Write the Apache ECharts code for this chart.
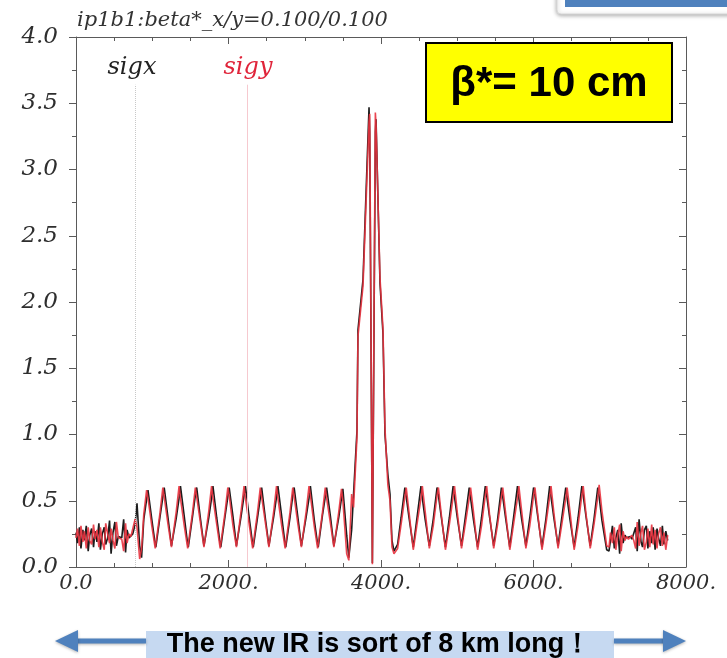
<!DOCTYPE html>
<html>
<head>
<meta charset="utf-8">
<script src="https://cdn.jsdelivr.net/npm/echarts@6/dist/echarts.min.js"></script>
<style>
  html, body { margin: 0; padding: 0; background: #fff; }
  #chart { width: 727px; height: 658px; }
</style>
</head>
<body>
<div id="chart"></div>
<script>
  //左侧直线段 (s, sigx, sigy)
  var leftS = [0, 20, 45, 65, 90, 110, 135, 160, 180, 205, 230, 250, 275, 300, 320, 345, 370, 390, 415, 440, 460, 485, 510, 530, 555, 580, 600, 625, 650, 670, 695, 720, 745]
  var leftX = [0.26, 0.18, 0.30, 0.14, 0.28, 0.20, 0.31, 0.12, 0.24, 0.29, 0.15, 0.27, 0.19, 0.33, 0.13, 0.25, 0.30, 0.17, 0.22, 0.35, 0.10, 0.26, 0.34, 0.16, 0.23, 0.23, 0.22, 0.36, 0.11, 0.28, 0.22, 0.22, 0.25]
  var leftY = [0.22, 0.29, 0.16, 0.31, 0.19, 0.27, 0.14, 0.30, 0.20, 0.17, 0.32, 0.21, 0.28, 0.15, 0.30, 0.19, 0.13, 0.33, 0.25, 0.18, 0.29, 0.20, 0.14, 0.34, 0.22, 0.22, 0.21, 0.12, 0.33, 0.18, 0.25, 0.23, 0.22]

  //左侧弧段
  var arcLS = [775, 800, 835, 860,
    889, 926, 944, 994, 1039,
    1047, 1102, 1139, 1157, 1207, 1252,
    1260, 1315, 1352, 1370, 1420, 1465,
    1473, 1528, 1565, 1583, 1633, 1678,
    1686, 1741, 1778, 1796, 1846, 1891,
    1899, 1954, 1991, 2009, 2059, 2104,
    2112, 2167, 2204, 2222, 2272, 2317,
    2325, 2380, 2417, 2435, 2485, 2530,
    2538, 2593, 2630, 2648, 2698, 2743,
    2751, 2806, 2843, 2861, 2911, 2956,
    2964, 3019, 3056, 3074, 3124, 3169,
    3177, 3232, 3269, 3287, 3337, 3382,
    3390, 3445, 3482, 3500, 3550]
  var arcLX = [0.32, 0.48, 0.16, 0.07,
    0.36, 0.51, 0.58, 0.36, 0.17,
    0.15, 0.38, 0.53, 0.60, 0.37, 0.16,
    0.16, 0.37, 0.52, 0.61, 0.38, 0.17,
    0.15, 0.38, 0.54, 0.60, 0.36, 0.16,
    0.16, 0.37, 0.52, 0.61, 0.37, 0.17,
    0.15, 0.38, 0.53, 0.60, 0.38, 0.16,
    0.16, 0.39, 0.54, 0.61, 0.37, 0.17,
    0.15, 0.37, 0.52, 0.60, 0.36, 0.16,
    0.16, 0.38, 0.53, 0.61, 0.38, 0.17,
    0.15, 0.37, 0.54, 0.60, 0.37, 0.16,
    0.16, 0.38, 0.52, 0.61, 0.36, 0.17,
    0.15, 0.39, 0.53, 0.60, 0.38, 0.16,
    0.16, 0.37, 0.52, 0.59, 0.24]
  var arcLY = [0.36, 0.30, 0.06, 0.14,
    0.40, 0.58, 0.52, 0.31, 0.14,
    0.13, 0.41, 0.60, 0.53, 0.32, 0.15,
    0.14, 0.42, 0.61, 0.52, 0.31, 0.14,
    0.13, 0.41, 0.60, 0.53, 0.33, 0.15,
    0.14, 0.42, 0.61, 0.52, 0.32, 0.14,
    0.13, 0.41, 0.60, 0.54, 0.31, 0.15,
    0.14, 0.43, 0.61, 0.52, 0.32, 0.14,
    0.13, 0.41, 0.60, 0.53, 0.33, 0.15,
    0.14, 0.42, 0.61, 0.52, 0.31, 0.14,
    0.13, 0.41, 0.60, 0.53, 0.32, 0.15,
    0.14, 0.42, 0.61, 0.54, 0.31, 0.14,
    0.13, 0.41, 0.60, 0.52, 0.33, 0.15,
    0.14, 0.41, 0.59, 0.50, 0.10]

  //对撞区 IR
  var irS = [3578, 3615, 3640, 3685, 3698, 3764, 3843, 3852, 3887, 3926, 3935, 3987, 4026, 4052, 4090, 4118, 4144, 4170]
  var irX = [0.07, 0.28, 0.55, 1.03, 1.79, 2.17, 3.47, 3.28, 0.03, 3.28, 3.38, 2.14, 1.76, 1.00, 0.70, 0.55, 0.20, 0.12]
  var irY = [0.05, 0.55, 0.45, 0.98, 1.74, 2.12, 3.36, 3.42, 0.02, 3.43, 3.34, 2.18, 1.80, 1.05, 0.62, 0.50, 0.15, 0.10]

  //右侧弧段
  var arcRS = [4218, 4263, 4313, 4331, 4368, 4423,
    4429, 4474, 4524, 4542, 4579, 4634,
    4640, 4685, 4735, 4753, 4790, 4845,
    4851, 4896, 4946, 4964, 5001, 5056,
    5062, 5107, 5157, 5175, 5212, 5267,
    5273, 5318, 5368, 5386, 5423, 5478,
    5484, 5529, 5579, 5597, 5634, 5689,
    5695, 5740, 5790, 5808, 5845, 5900,
    5906, 5951, 6001, 6019, 6056, 6111,
    6117, 6162, 6212, 6230, 6267, 6322,
    6328, 6373, 6423, 6441, 6478, 6533,
    6539, 6584, 6634, 6652, 6689, 6744,
    6748, 6793, 6843, 6861, 6898, 6960]
  var arcRX = [0.17, 0.37, 0.60, 0.53, 0.37, 0.15,
    0.16, 0.38, 0.61, 0.52, 0.36, 0.16,
    0.17, 0.36, 0.60, 0.54, 0.38, 0.15,
    0.16, 0.37, 0.61, 0.53, 0.37, 0.16,
    0.17, 0.38, 0.60, 0.52, 0.36, 0.15,
    0.16, 0.37, 0.61, 0.54, 0.38, 0.16,
    0.17, 0.36, 0.60, 0.53, 0.37, 0.15,
    0.16, 0.38, 0.61, 0.52, 0.36, 0.16,
    0.17, 0.37, 0.60, 0.54, 0.38, 0.15,
    0.16, 0.36, 0.61, 0.53, 0.37, 0.16,
    0.17, 0.38, 0.60, 0.52, 0.36, 0.15,
    0.16, 0.37, 0.61, 0.54, 0.38, 0.16,
    0.17, 0.36, 0.60, 0.53, 0.35, 0.13]
  var arcRY = [0.14, 0.32, 0.53, 0.60, 0.41, 0.13,
    0.15, 0.33, 0.52, 0.61, 0.42, 0.14,
    0.14, 0.31, 0.54, 0.60, 0.40, 0.13,
    0.15, 0.32, 0.53, 0.61, 0.41, 0.14,
    0.14, 0.33, 0.52, 0.60, 0.42, 0.13,
    0.15, 0.31, 0.54, 0.61, 0.40, 0.14,
    0.14, 0.32, 0.53, 0.60, 0.41, 0.13,
    0.15, 0.33, 0.52, 0.61, 0.42, 0.14,
    0.14, 0.31, 0.54, 0.60, 0.40, 0.13,
    0.15, 0.32, 0.53, 0.61, 0.41, 0.14,
    0.14, 0.33, 0.52, 0.60, 0.42, 0.13,
    0.15, 0.31, 0.54, 0.61, 0.40, 0.14,
    0.14, 0.32, 0.53, 0.62, 0.42, 0.16]

  //右侧直线段
  var rightS = [6990, 7010, 7035, 7060, 7080, 7105, 7130, 7150, 7175, 7200, 7220, 7245, 7270, 7290, 7315, 7340, 7360, 7385, 7410, 7430, 7455, 7480, 7500, 7525, 7550, 7570, 7595, 7620, 7640, 7665, 7690, 7710, 7735, 7760]
  var rightX = [0.12, 0.20, 0.31, 0.14, 0.22, 0.28, 0.10, 0.33, 0.18, 0.24, 0.22, 0.22, 0.23, 0.21, 0.22, 0.30, 0.12, 0.36, 0.19, 0.15, 0.28, 0.31, 0.14, 0.27, 0.18, 0.30, 0.13, 0.29, 0.22, 0.16, 0.31, 0.17, 0.27, 0.20]
  var rightY = [0.15, 0.26, 0.18, 0.30, 0.13, 0.24, 0.32, 0.12, 0.27, 0.20, 0.23, 0.21, 0.22, 0.24, 0.20, 0.14, 0.34, 0.16, 0.26, 0.31, 0.13, 0.19, 0.29, 0.15, 0.32, 0.17, 0.28, 0.14, 0.25, 0.30, 0.16, 0.26, 0.13, 0.24]

  //图例竖线位置
  var markerS = [774, 2243]
  var markerTop = 3.64

  var xTicks = [0, 2000, 4000, 6000, 8000]
  var yTicks = [0, 0.5, 1, 1.5, 2, 2.5, 3, 3.5, 4]

  var sAll = leftS.concat(arcLS, irS, arcRS, rightS)
  var sigx = leftX.concat(arcLX, irX, arcRX, rightX)
  var sigy = leftY.concat(arcLY, irY, arcRY, rightY)

  function zip (s, v) {
    return s.map(function (p, i) { return [p, v[i]] })
  }

  var serifFont = "'DejaVu Serif', 'Liberation Serif', serif"
  var axisColor = '#5a5a5a'

  function xAxisOf (pos, showLabel) {
    return {
      type: 'value',
      position: pos,
      min: xTicks[0],
      max: xTicks[xTicks.length - 1],
      interval: xTicks[1] - xTicks[0],
      axisLine: { show: true, onZero: false, lineStyle: { color: axisColor, width: 1 } },
      axisTick: { show: true, inside: true, length: 7, lineStyle: { color: axisColor } },
      minorTick: { show: true, splitNumber: 4, length: 4, lineStyle: { color: axisColor } },
      splitLine: { show: false },
      axisLabel: {
        show: showLabel,
        showMinLabel: true,
        showMaxLabel: true,
        margin: 6,
        color: '#2e2e2e',
        fontFamily: serifFont,
        fontStyle: 'italic',
        fontSize: 21,
        formatter: function (v) { return v === 0 ? '0.0' : v + '.' }
      }
    }
  }

  function yAxisOf (pos, showLabel) {
    return {
      type: 'value',
      position: pos,
      min: yTicks[0],
      max: yTicks[yTicks.length - 1],
      interval: yTicks[1] - yTicks[0],
      axisLine: { show: true, onZero: false, lineStyle: { color: axisColor, width: 1 } },
      axisTick: { show: true, inside: !showLabel, length: 7, lineStyle: { color: axisColor } },
      minorTick: { show: true, splitNumber: 2, length: 4, lineStyle: { color: axisColor } },
      splitLine: { show: false },
      axisLabel: {
        show: showLabel,
        showMinLabel: true,
        showMaxLabel: true,
        margin: 18,
        color: '#2e2e2e',
        fontFamily: serifFont,
        fontStyle: 'italic',
        fontSize: 23,
        formatter: function (v) { return v.toFixed(1) }
      }
    }
  }

  var myChart = echarts.init(document.getElementById('chart'), null, { renderer: 'canvas' })
  var option = {
    backgroundColor: '#fff',
    animation: false,
    grid: { left: 76, right: 41, top: 37, bottom: 91 },
    xAxis: [xAxisOf('bottom', true), xAxisOf('top', false)],
    yAxis: [yAxisOf('left', true), yAxisOf('right', false)],
    series: [
      {
        name: 'sigx',
        type: 'line',
        showSymbol: false,
        data: zip(sAll, sigx),
        lineStyle: { color: '#1c1c1c', width: 1.6 },
        markLine: {
          silent: true,
          symbol: 'none',
          label: { show: false },
          lineStyle: { color: '#c8c8c8', type: 'dotted', width: 1 },
          data: [[{ coord: [markerS[0], 0] }, { coord: [markerS[0], markerTop] }]]
        }
      },
      {
        name: 'sigy',
        type: 'line',
        showSymbol: false,
        data: zip(sAll, sigy),
        lineStyle: { color: '#e8323e', width: 1.6, opacity: 0.9 },
        markLine: {
          silent: true,
          symbol: 'none',
          label: { show: false },
          lineStyle: { color: '#f6c9cf', type: 'solid', width: 1 },
          data: [[{ coord: [markerS[1], 0] }, { coord: [markerS[1], markerTop] }]]
        }
      }
    ],
    graphic: [
      //右上角的框
      {
        type: 'rect', z: 100,
        shape: { x: 557, y: -12, width: 190, height: 26, r: 4 },
        style: { fill: '#fff', stroke: '#d8d8d8', lineWidth: 1, shadowBlur: 4, shadowOffsetY: 1, shadowColor: 'rgba(0,0,0,0.35)' }
      },
      {
        type: 'rect', z: 101,
        shape: { x: 565, y: 0, width: 170, height: 7 },
        style: { fill: '#4f81bd' }
      },
      //标题
      {
        type: 'text', z: 100, x: 77, y: 21,
        style: { text: 'ip1b1:beta*_x/y=0.100/0.100', fill: '#333', font: 'italic 21px ' + serifFont, verticalAlign: 'middle' }
      },
      //图例
      {
        type: 'text', z: 100, x: 132, y: 68,
        style: { text: 'sigx', fill: '#222', font: 'italic 24px ' + serifFont, align: 'center', verticalAlign: 'middle' }
      },
      {
        type: 'text', z: 100, x: 248, y: 68,
        style: { text: 'sigy', fill: '#e0243a', font: 'italic 24px ' + serifFont, align: 'center', verticalAlign: 'middle' }
      },
      //黄色标签
      {
        type: 'rect', z: 100,
        shape: { x: 426, y: 43, width: 246, height: 79 },
        style: { fill: '#ffff00', stroke: '#000', lineWidth: 2 }
      },
      {
        type: 'text', z: 101, x: 549, y: 84,
        style: { text: 'β*= 10 cm', fill: '#000', font: "bold 42px 'Liberation Sans', Arial, sans-serif", align: 'center', verticalAlign: 'middle' }
      },
      //底部说明
      {
        type: 'rect', z: 100,
        shape: { x: 146, y: 631, width: 468, height: 30 },
        style: { fill: '#c6d9f1' }
      },
      {
        type: 'text', z: 101, x: 379, y: 645,
        style: { text: 'The new IR is sort of 8 km long！', fill: '#000', font: "bold 27px 'Liberation Sans Narrow', 'Liberation Sans', sans-serif", align: 'center', verticalAlign: 'middle' }
      },
      //左右箭头
      {
        type: 'line', z: 100,
        shape: { x1: 146, y1: 641, x2: 74, y2: 641 },
        style: { stroke: '#4f81bd', lineWidth: 5, shadowBlur: 3, shadowColor: 'rgba(0,0,0,0.3)', shadowOffsetY: 1 }
      },
      {
        type: 'polygon', z: 100,
        shape: { points: [[55, 641], [78, 630], [78, 652]] },
        style: { fill: '#4f81bd', shadowBlur: 3, shadowColor: 'rgba(0,0,0,0.3)', shadowOffsetY: 1 }
      },
      {
        type: 'line', z: 100,
        shape: { x1: 614, y1: 641, x2: 666, y2: 641 },
        style: { stroke: '#4f81bd', lineWidth: 5, shadowBlur: 3, shadowColor: 'rgba(0,0,0,0.3)', shadowOffsetY: 1 }
      },
      {
        type: 'polygon', z: 100,
        shape: { points: [[686, 641], [663, 630], [663, 652]] },
        style: { fill: '#4f81bd', shadowBlur: 3, shadowColor: 'rgba(0,0,0,0.3)', shadowOffsetY: 1 }
      }
    ]
  }
  myChart.setOption(option, true)
</script>
</body>
</html>
